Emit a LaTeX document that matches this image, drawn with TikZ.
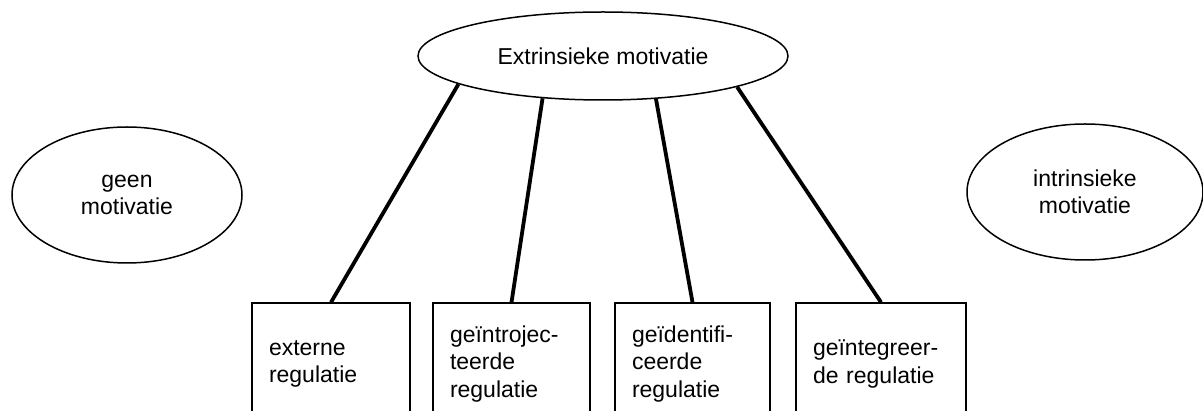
\documentclass[tikz,border=0pt]{standalone}
\usepackage{fontspec}
\setmainfont{Liberation Sans}
\usetikzlibrary{shapes.geometric}

\begin{document}
\begin{tikzpicture}[x=1pt,y=-1pt]
\tikzstyle{every node}=[font=\fontsize{23}{27.5}\selectfont, align=center, inner sep=0pt]
\tikzstyle{ell}=[draw, ellipse, line width=1.5pt]
\tikzstyle{regbox}=[draw, rectangle, line width=1.4pt, inner xsep=17pt, align=left, minimum height=122pt, text width=#1]
\tikzstyle{link}=[line width=3.8pt]
\clip (0,0) rectangle (1203,411);
\node (ext) [ell, minimum width=370pt, minimum height=88pt] at (603,56) {Extrinsieke motivatie};
\node (geen) [ell, minimum width=230pt, minimum height=136pt] at (127,195) {geen\\motivatie};
\node (intr) [ell, minimum width=236pt, minimum height=136pt] at (1085,192) {intrinsieke\\motivatie};
\node (r1) [regbox=124pt] at (331,364) {externe\\regulatie};
\node (r2) [regbox=123pt] at (511.5,364) {geïntrojec-\\teerde\\regulatie};
\node (r3) [regbox=121pt] at (692.5,364) {geïdentifi-\\ceerde\\regulatie};
\node (r4) [regbox=136pt] at (881,364) {geïntegreer-\\de regulatie};
\draw[link] (ext.191) -- (r1.north);
\draw[link] (ext.215) -- (r2.north);
\draw[link] (ext.321) -- (r3.north);
\draw[link] (ext.347) -- (r4.north);
\end{tikzpicture}
\end{document}
